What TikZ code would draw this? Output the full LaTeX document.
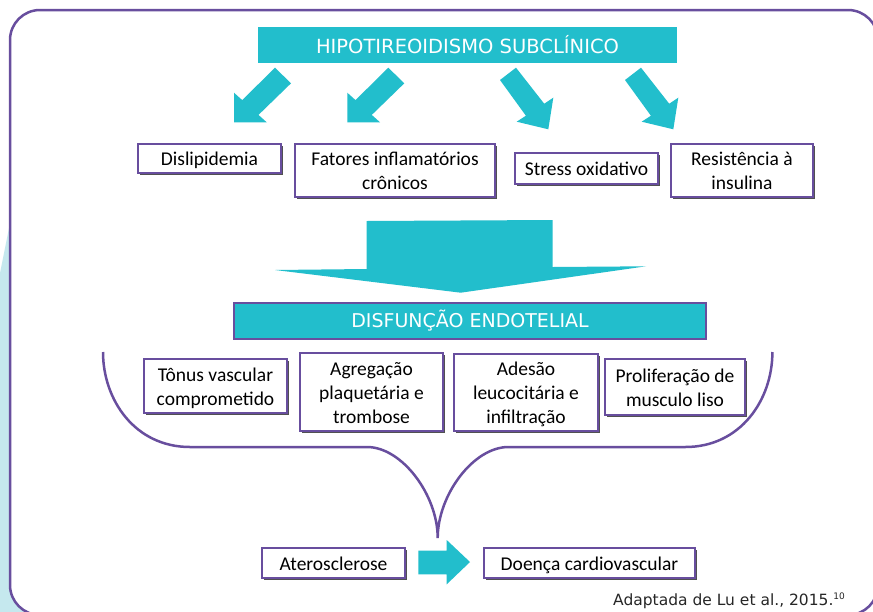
\documentclass[tikz,border=0pt]{standalone}
\usepackage{fontspec}
\setmainfont{Carlito}
\newfontfamily\verd{DejaVu Sans}
\usetikzlibrary{shadows}
\definecolor{purp}{RGB}{104,78,158}
\definecolor{tealc}{RGB}{34,190,204}
\definecolor{ltblue}{RGB}{197,232,238}
\newcommand\sr{\rule[-4.5pt]{0pt}{23pt}}
\tikzset{
  box/.style={draw=purp, line width=2.2pt, fill=white, inner sep=0pt, align=center,
    font=\fontsize{19.5}{22.5}\selectfont, text=black,
    drop shadow={shadow xshift=2.4pt, shadow yshift=-2.4pt, opacity=0.85, fill=black!80}},
  hdr/.style={fill=tealc, text=white, inner sep=0pt, font=\verd\fontsize{19.5}{23}\selectfont},
  dbox/.style={draw=purp, line width=2.2pt, fill=tealc, text=white, inner sep=0pt,
    font=\verd\fontsize{19}{23}\selectfont},
  blockarrow/.style={fill=tealc, draw=none},
  framec/.style={draw=purp, line width=2.5pt},
}
\begin{document}
\begin{tikzpicture}[x=1pt,y=-1pt]
\useasboundingbox (0,0) rectangle (873,611);
\clip (0,0) rectangle (873,611);
\fill[white] (0,0) rectangle (873,611);
% light blue strip on the left
\fill[ltblue] (0,273) -- (9,228) -- (60,228) -- (60,615) -- (0,615) -- cycle;
% outer frame
\draw[framec, fill=white, rounded corners=30pt] (10,10) rectangle (878,615);

% header
\node[hdr, minimum width=419pt, minimum height=36pt] (hip) at (467.5,45) {HIPOTIREOIDISMO SUBCLÍNICO};

% diagonal block arrows
\fill[blockarrow] (275,67.7) -- (291,83.3) -- (258.5,114.9) -- (266.7,122.3) -- (234,122.3) -- (234,92.7) -- (242.2,100.1) -- cycle;
\fill[blockarrow] (388.3,67.7) -- (404.3,83.3) -- (371.8,114.9) -- (380,122.3) -- (347.3,122.3) -- (347.3,92.7) -- (355.5,100.1) -- cycle;
\fill[blockarrow] (500,80) -- (516,67.7) -- (544.2,103.7) -- (553.3,97.7) -- (548.3,129.3) -- (516.7,121.7) -- (525.9,115.7) -- cycle;
\fill[blockarrow] (625,80) -- (641,67.7) -- (669.2,103.7) -- (678.3,97.7) -- (673.3,129.3) -- (641.7,121.7) -- (650.9,115.7) -- cycle;

% first row of boxes
\node[box, minimum width=143pt, minimum height=29pt] (dis) at (209.5,158.5) {\sr Dislipidemia};
\node[box, minimum width=200pt, minimum height=53pt] (fat) at (395,170.5) {\sr Fatores inflamatórios\\\sr crônicos};
\node[box, minimum width=143pt, minimum height=31pt] (str) at (586.5,168.5) {\sr Stress oxidativo};
\node[box, minimum width=142pt, minimum height=53pt] (res) at (742,170.5) {\sr Resistência à\\\sr insulina};

% big down arrow
\fill[blockarrow] (366.7,221) -- (552.7,220) -- (552.7,267) -- (646,266.3) -- (460.7,292.7) -- (275,270) -- (366.7,269) -- cycle;

% endothelial dysfunction
\node[dbox, minimum width=472pt, minimum height=36pt] (end) at (470,321) {DISFUNÇÃO ENDOTELIAL};

% second row of boxes
\node[box, minimum width=143pt, minimum height=54pt] (ton) at (215.5,386) {\sr Tônus vascular\\\sr comprometido};
\node[box, minimum width=143pt, minimum height=78pt] (agr) at (371.5,392) {\sr Agregação\\\sr plaquetária e\\\sr trombose};
\node[box, minimum width=144pt, minimum height=77pt] (ade) at (526,392.5) {\sr Adesão\\\sr leucocitária e\\\sr infiltração};
\node[box, minimum width=140pt, minimum height=56pt] (pro) at (675,387) {\sr Proliferação de\\\sr musculo liso};

% brace
\draw[framec] (103,352) .. controls (103,400) and (135,447) .. (190,447) -- (367,447)
  .. controls (402,447) and (437.7,495) .. (437.7,538)
  .. controls (437.7,495) and (473.4,447) .. (508.4,447) -- (685.4,447)
  .. controls (740.4,447) and (772.4,400) .. (772.4,352);

% bottom row
\node[box, minimum width=143pt, minimum height=30pt] (ate) at (333.5,563) {\sr Aterosclerose};
\node[box, minimum width=211pt, minimum height=30pt] (doe) at (589.5,563) {\sr Doença cardiovascular};
\fill[blockarrow] (418.3,550.7) -- (446.7,550.7) -- (446.7,540) -- (470,562) -- (446.7,584.3) -- (446.7,574.3) -- (418.3,574.3) -- cycle;

% source
\node[anchor=base west, inner sep=0pt, font=\verd\fontsize{15.5}{18}\selectfont, text=black!85] (src) at (613,605) {Adaptada de Lu et al., 2015.\raisebox{6pt}{\fontsize{9}{9}\selectfont 10}};
\end{tikzpicture}
\end{document}
